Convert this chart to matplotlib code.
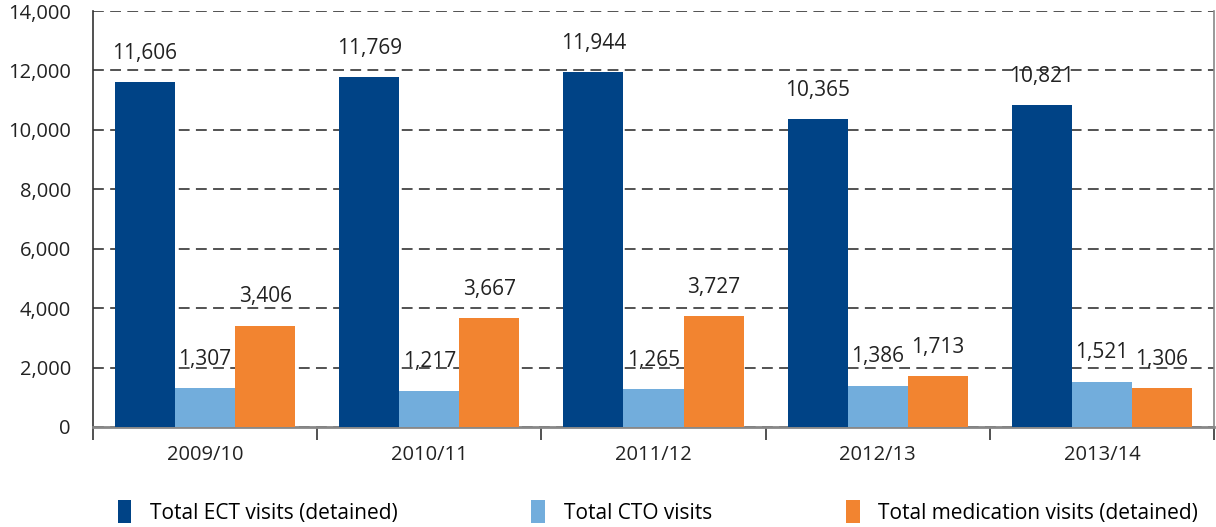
import numpy as np
from matplotlib import pyplot as plt

plt.rcParams['font.family'] = ['Open Sans', 'DejaVu Sans']

years = ['2009/10', '2010/11', '2011/12', '2012/13', '2013/14']
ect_visits = [11606, 11769, 11944, 10365, 10821]
cto_visits = [1307, 1217, 1265, 1386, 1521]
med_visits = [3406, 3667, 3727, 1713, 1306]
series_names = ['Total ECT visits (detained)', 'Total CTO visits',
                'Total medication visits (detained)']
colors = ['#004386', '#72ADDC', '#F28430']

fig = plt.figure(figsize=(12.16, 5.27), dpi=100)
ax = fig.add_axes([93 / 1216, 1 - 427 / 527, (1214 - 93) / 1216, (427 - 11) / 527])

x = np.arange(len(years))
w = 0.268
for i, (vals, name, c) in enumerate(zip([ect_visits, cto_visits, med_visits], series_names, colors)):
    pos = x + (i - 1) * w
    ax.bar(pos, vals, width=w, color=c, label=name, zorder=3)
    for p, v in zip(pos, vals):
        ax.text(p, v + 620, f'{v:,}', ha='center', va='bottom', fontsize=15,
                color='#222222', zorder=4)

ax.set_xlim(-0.5, len(years) - 0.5)
ax.set_ylim(0, 14000)
ax.set_yticks(range(0, 14001, 2000))
ax.set_yticklabels([f'{v:,}' for v in range(0, 14001, 2000)], fontsize=14.5, color='#222222')
ax.tick_params(axis='y', length=0, pad=16)

ax.set_xticks(x)
ax.set_xticklabels(years, fontsize=14.5, color='#222222')
ax.set_xticks(np.arange(-0.5, len(years)), minor=True)
ax.tick_params(axis='x', which='major', length=0, pad=13)
ax.tick_params(axis='x', which='minor', length=9, width=1.2, color='#333333')

ax.yaxis.grid(True, linestyle=(0, (6, 3.5)), color='#444444', linewidth=1.3, zorder=0)
ax.spines['top'].set_visible(False)
ax.spines['left'].set_color('#333333')
ax.spines['left'].set_linewidth(1.2)
ax.spines['right'].set_color('#888888')
ax.spines['right'].set_linewidth(1.2)
ax.spines['bottom'].set_color('#888888')
ax.spines['bottom'].set_linewidth(2)

fig.legend(loc='center', bbox_to_anchor=(0.541, 1 - 512 / 527), ncol=3, frameon=False,
           fontsize=15, handlelength=0.67, handleheight=1.25, handletextpad=0.9,
           columnspacing=6.4)

plt.savefig('out.png', dpi=100)
